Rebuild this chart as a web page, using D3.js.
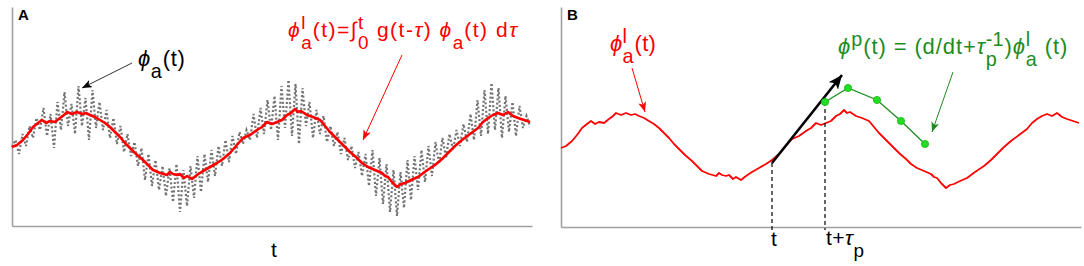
<!DOCTYPE html>
<html>
<head>
<meta charset="utf-8">
<script src="https://cdn.jsdelivr.net/npm/d3@7"></script>
<style>
  body { margin: 0; background: #fff; }
  svg text { font-family: "Liberation Sans", Arial, sans-serif; white-space: pre; }
</style>
</head>
<body>
<div id="chart"></div>
<script>
// slow (leaky-integrated) signal, shared by both panels
const redT = [0,5,11,16,21,26,30,34,38,43,
  48,52,55,60,65,70,74,78,83,88,
  93,98,103,108,113,118,124,131,136,141,
  148,155,158,161,165,168,172,175,180,185,
  191,198,205,211,218,224,231,238,245,250,
  255,260,265,270,275,279,283,286,289,295,
  301,308,313,318,325,331,338,345,350,356,
  363,370,373,376,380,385,389,393,399,406,
  414,423,430,436,443,450,458,466,471,476,
  481,486,491,496,501,506,512,518];
const redV = [79,81,86,92,99,103,106,103,105,104,
  108,111,114,112,114,112,113,111,109,106,
  103,99,94,89,83,78,72,66,61,56,
  53,51,54,52,51,52,48,50,47,51,
  55,59,63,67,73,80,88,91,96,99,
  104,102,104,106,111,113,117,114,115,111,
  109,106,100,94,87,81,74,68,63,59,
  56,53,50,49,44,39,42,43,46,49,
  55,61,67,73,80,86,92,98,104,108,
  111,113,111,114,110,108,106,104];

// raw noisy signal phi_a(t), sampled every grayStep
const grayStep = 3.5;
const grayV = [79,86,72,92,80,100,88,108,96,118,
  90,112,78,124,96,134,100,122,92,140,
  100,128,86,136,98,124,96,116,88,108,
  82,100,74,92,70,84,60,78,46,72,
  40,66,36,60,30,58,24,62,14,56,
  20,60,28,70,34,72,44,76,50,80,
  60,86,64,90,72,94,82,96,86,112,
  88,118,92,126,96,130,86,140,98,146,
  90,142,82,138,100,124,88,116,92,110,
  84,100,80,94,72,88,66,80,58,74,
  50,72,40,76,30,68,22,62,14,56,
  10,54,18,66,26,70,36,76,44,80,
  50,84,62,88,68,92,76,96,80,102,
  84,112,86,126,90,136,92,143,96,138,
  88,130,94,124,90,120,98,110,100];

// panel B: predicted signal phi^p and the markers
const greenT = [264, 287, 316, 340, 364];
const greenV = [125, 139, 127, 106, 83];
const markT = [211, 264];           // t and t + tau_p
const tangent = [[211, 64], [281, 152]];

const width = 1084, height = 266;
const svg = d3.select("#chart").append("svg")
  .attr("width", width).attr("height", height);

const defs = svg.append("defs");
function arrowHead(id, color, len, wid) {
  defs.append("marker")
    .attr("id", id)
    .attr("markerUnits", "userSpaceOnUse")
    .attr("markerWidth", len).attr("markerHeight", wid)
    .attr("refX", len).attr("refY", wid / 2)
    .attr("orient", "auto")
    .append("path")
    .attr("d", `M0,0L${len},${wid / 2}L0,${wid}L${len * 0.25},${wid / 2}Z`)
    .attr("fill", color);
}
arrowHead("ah-black", "#000", 10, 8);
arrowHead("ah-red", "#ff0000", 10, 8);
arrowHead("ah-green", "#1e8c1e", 10, 8);
arrowHead("ah-big", "#000", 14, 12);

const xA = d3.scaleLinear().domain([0, 520]).range([12, 532]);
const yA = d3.scaleLinear().domain([0, 219]).range([226, 7]);
const xB = d3.scaleLinear().domain([0, 520]).range([561, 1081]);
const yB = d3.scaleLinear().domain([0, 220]).range([227, 7]);

function frame(x, y) {
  const gx = svg.append("g").attr("transform", `translate(0,${y.range()[0]})`)
    .call(d3.axisBottom(x).ticks(0).tickSize(0).tickSizeOuter(0));
  const gy = svg.append("g").attr("transform", `translate(${x.range()[0]},0)`)
    .call(d3.axisLeft(y).ticks(0).tickSize(0).tickSizeOuter(0));
  [gx, gy].forEach(g => g.select(".domain").attr("stroke", "#a0a0a0").attr("stroke-width", 1.6));
}
frame(xA, yA);
frame(xB, yB);

// text with sub/superscripts, laid out piece by piece
function mathText(x, y, parts, size, color, ls) {
  const g = svg.append("g").attr("fill", color);
  let cx = x;
  const small = size * 0.9;
  parts.forEach(p => {
    if (typeof p === "string") p = { s: p };
    if (p.sup !== undefined || p.sub !== undefined) {
      let w = 0;
      if (p.sup !== undefined) {
        const t = g.append("text").attr("x", cx).attr("y", y - size * 0.36)
          .style("font-size", small + "px").text(p.sup);
        w = Math.max(w, t.node().getComputedTextLength());
      }
      if (p.sub !== undefined) {
        const t = g.append("text").attr("x", cx).attr("y", y + size * 0.55)
          .style("font-size", small + "px").text(p.sub);
        w = Math.max(w, t.node().getComputedTextLength());
      }
      cx += w + 1;
    } else {
      const t = g.append("text").attr("x", cx).attr("y", y)
        .style("font-size", size + "px")
        .style("letter-spacing", (ls || 0) + "px")
        .style("font-style", p.i ? "italic" : "normal")
        .text(p.s);
      cx += t.node().getComputedTextLength();
    }
  });
  return g;
}

function arrow(x1, y1, x2, y2, color, marker, w) {
  svg.append("line")
    .attr("x1", x1).attr("y1", y1).attr("x2", x2).attr("y2", y2)
    .attr("stroke", color).attr("stroke-width", w || 1)
    .attr("marker-end", `url(#${marker})`);
}

// ---------- panel A ----------
const grayLine = d3.line().x((d, i) => xA(i * grayStep)).y(d => yA(d));
svg.append("path")
  .attr("d", grayLine(grayV))
  .attr("fill", "none")
  .attr("stroke", "#737373")
  .attr("stroke-width", 2.2)
  .attr("stroke-dasharray", "2,2.2");

const redLineA = d3.line().x((d, i) => xA(redT[i])).y(d => yA(d));
svg.append("path")
  .attr("d", redLineA(redV))
  .attr("fill", "none")
  .attr("stroke", "#ff0000")
  .attr("stroke-width", 2.6)
  .attr("stroke-linejoin", "round");

svg.append("text").attr("x", 18).attr("y", 20)
  .style("font-size", "15px").style("font-weight", "bold").text("A");

mathText(138, 66, [{ s: "ϕ", i: 1 }, { sub: "a" }, "(t)"], 22, "#000", 0.6);
arrow(132, 63, 82, 88, "#333", "ah-black", 1);

mathText(288, 37, [{ s: "ϕ", i: 1 }, { sup: "l", sub: "a" }, "(t)=∫", { sup: "t", sub: "0" },
  " g(t-", { s: "τ", i: 1 }, ") ", { s: "ϕ", i: 1 }, { sub: "a" }, "(t) d", { s: "τ", i: 1 }], 21, "#ff0000", 1.5);
arrow(402, 55, 363, 140, "#ff0000", "ah-red", 1);

svg.append("text").attr("x", 274).attr("y", 257).attr("text-anchor", "middle")
  .style("font-size", "21px").text("t");

// ---------- panel B ----------
const redLineB = d3.line().x((d, i) => xB(redT[i])).y(d => yB(d));
svg.append("path")
  .attr("d", redLineB(redV))
  .attr("fill", "none")
  .attr("stroke", "#ff0000")
  .attr("stroke-width", 1.8)
  .attr("stroke-linejoin", "round");

svg.append("text").attr("x", 567).attr("y", 20)
  .style("font-size", "15px").style("font-weight", "bold").text("B");

// dashed drop lines at t and t + tau_p
const dropTop = [tangent[0][1], greenV[0]];
markT.forEach((t, i) => {
  svg.append("line")
    .attr("x1", xB(t)).attr("x2", xB(t))
    .attr("y1", yB(dropTop[i])).attr("y2", yB(-3))
    .attr("stroke", "#000").attr("stroke-width", 1.2)
    .attr("stroke-dasharray", "4,3");
});

// tangent arrow
arrow(xB(tangent[0][0]), yB(tangent[0][1]), xB(tangent[1][0]), yB(tangent[1][1]), "#000", "ah-big", 2.6);

// predicted signal
const greenLine = d3.line().x((d, i) => xB(greenT[i])).y(d => yB(d));
svg.append("path")
  .attr("d", greenLine(greenV))
  .attr("fill", "none")
  .attr("stroke", "#1e8c1e")
  .attr("stroke-width", 1.3);
svg.selectAll(".gdot").data(greenV).enter().append("circle")
  .attr("class", "gdot")
  .attr("cx", (d, i) => xB(greenT[i]))
  .attr("cy", d => yB(d))
  .attr("r", 3.6)
  .attr("fill", "#22dd22")
  .attr("stroke", "#14b814")
  .attr("stroke-width", 0.8);

mathText(610, 51, [{ s: "ϕ", i: 1 }, { sup: "l", sub: "a" }, "(t)"], 22, "#ff0000", 0.3);
arrow(632, 68, 645, 112, "#ff0000", "ah-red", 1);

mathText(838, 54, [{ s: "ϕ", i: 1 }, { sup: "p" }, "(t) = (d/dt+", { s: "τ", i: 1 }, { sup: "-1", sub: "p" },
  ")", { s: "ϕ", i: 1 }, { sup: "l", sub: "a" }, " (t)"], 22, "#1e8c1e", 0.9);
arrow(953, 72, 932, 132, "#1e8c1e", "ah-green", 1);

svg.append("text").attr("x", xB(markT[0]) + 2).attr("y", 246).attr("text-anchor", "middle")
  .style("font-size", "21px").text("t");
mathText(xB(markT[1]) + 1, 245, ["t+", { s: "τ", i: 1 }, { sub: "p" }], 21, "#000", 0.5);
</script>
</body>
</html>
